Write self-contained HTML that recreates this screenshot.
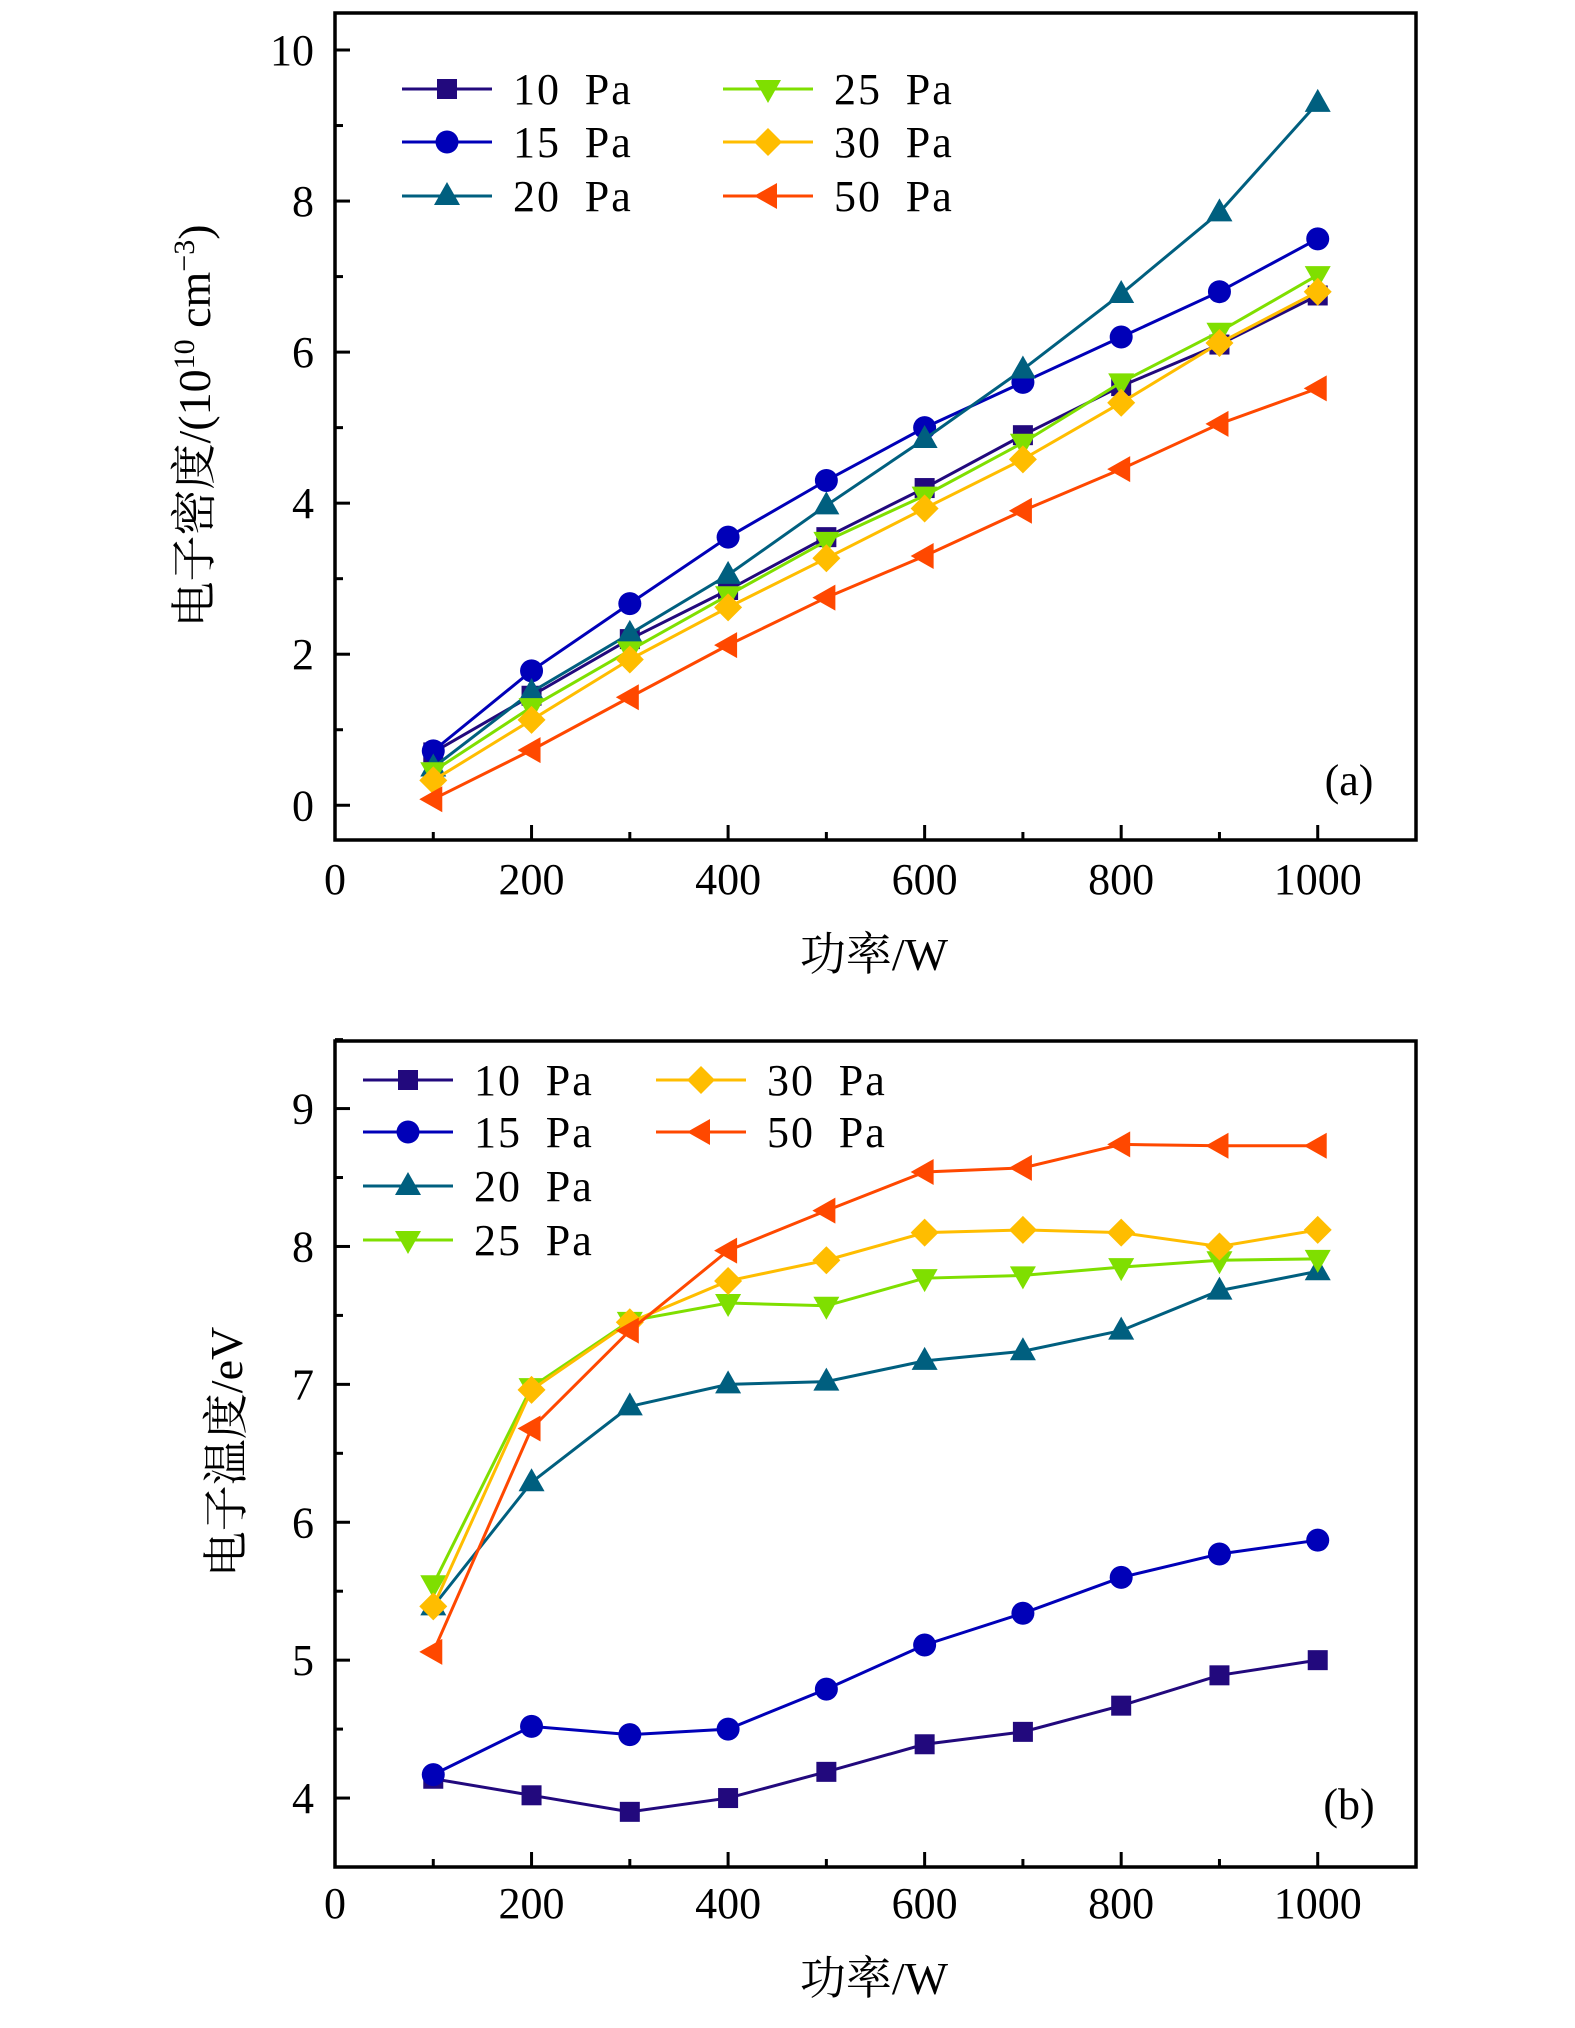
<!DOCTYPE html>
<html><head><meta charset="utf-8">
<style>
html,body{margin:0;padding:0;background:#fff;}
svg{display:block;font-family:"Liberation Serif","Noto Serif CJK SC",serif;}
</style></head>
<body>
<svg id="chart" width="1575" height="2028" viewBox="0 0 1575 2028" xmlns="http://www.w3.org/2000/svg"></svg>
<script>
const xValues = [100,200,300,400,500,600,700,800,900,1000];
const seriesNames = ["10 Pa","15 Pa","20 Pa","25 Pa","30 Pa","50 Pa"];
const densityP10 = [0.7,1.45,2.2,2.85,3.55,4.2,4.9,5.55,6.1,6.75];
const densityP15 = [0.72,1.78,2.67,3.55,4.3,5.0,5.6,6.2,6.8,7.5];
const densityP20 = [0.5,1.5,2.27,3.05,3.97,4.85,5.77,6.77,7.85,9.3];
const densityP25 = [0.45,1.3,2.05,2.78,3.5,4.1,4.8,5.6,6.27,7.02];
const densityP30 = [0.33,1.13,1.93,2.62,3.27,3.93,4.58,5.33,6.12,6.8];
const densityP50 = [0.08,0.73,1.43,2.12,2.75,3.3,3.9,4.45,5.05,5.52];
const tempP10 = [4.14,4.02,3.9,4.0,4.19,4.39,4.48,4.67,4.89,5.0];
const tempP15 = [4.17,4.52,4.46,4.5,4.79,5.11,5.34,5.6,5.77,5.87];
const tempP20 = [5.39,6.29,6.84,7.0,7.02,7.17,7.24,7.39,7.68,7.82];
const tempP25 = [5.55,6.98,7.46,7.59,7.57,7.77,7.79,7.85,7.9,7.91];
const tempP30 = [5.39,6.96,7.45,7.75,7.9,8.1,8.12,8.1,8.0,8.12];
const tempP50 = [5.06,6.68,7.39,7.97,8.26,8.54,8.57,8.74,8.73,8.73];
const xTicks = [0,200,400,600,800,1000];
const xMinorTicks = [100,300,500,700,900];
const densityTicks = [0,2,4,6,8,10];
const tempTicks = [4,5,6,7,8,9];

const colors = ["#22097d","#0000b8","#005f7f","#7fdf00","#ffbd00","#ff4800"];
const markers = ["square","circle","triangle","down","diamond","left"];
const NS = "http://www.w3.org/2000/svg";
const svg = document.getElementById("chart");
function mk(tag, attrs, parent){const e=document.createElementNS(NS,tag);for(const k in attrs)e.setAttribute(k,attrs[k]);(parent||svg).appendChild(e);return e;}

function marker(g,type,cx,cy,color){
  let e;
  if(type==="square") e=mk("rect",{x:cx-10,y:cy-10,width:20,height:20,fill:color},g);
  else if(type==="circle") e=mk("circle",{cx:cx,cy:cy,r:11.5,fill:color},g);
  else if(type==="triangle") e=mk("polygon",{points:`${cx},${cy-14} ${cx+13},${cy+9} ${cx-13},${cy+9}`,fill:color},g);
  else if(type==="down") e=mk("polygon",{points:`${cx},${cy+14} ${cx+13},${cy-9} ${cx-13},${cy-9}`,fill:color},g);
  else if(type==="diamond") e=mk("polygon",{points:`${cx},${cy-14} ${cx+14},${cy} ${cx},${cy+14} ${cx-14},${cy}`,fill:color},g);
  else e=mk("polygon",{points:`${cx-14},${cy} ${cx+9},${cy-13} ${cx+9},${cy+13}`,fill:color},g);
  
  
}

function panel(cfg){
  const g=mk("g",{});
  
  
  const L=335,R=1416,T=cfg.top,B=cfg.bottom;
  const sx=v=>L+(v-0)/1100*(R-L);
  const sy=v=>B-(v-cfg.ymin)/(cfg.ymax-cfg.ymin)*(B-T);
  cfg.series.forEach((arr,i)=>{
    const sg=mk("g",{},g);
    
    
    const pts=arr.map((v,j)=>sx(xValues[j])+","+sy(v)).join(" ");
    const pl=mk("polyline",{points:pts,fill:"none",stroke:colors[i],"stroke-width":3},sg);
    
    
    arr.forEach((v,j)=>marker(sg,markers[i],sx(xValues[j]),sy(v),colors[i]));
  });
  const fr=mk("rect",{x:L,y:T,width:R-L,height:B-T,fill:"none",stroke:"#000","stroke-width":3.5},g);
  
  
  xTicks.forEach(t=>{
    const x=sx(t);
    if(t>0) mk("line",{x1:x,y1:B,x2:x,y2:B-15,stroke:"#000","stroke-width":3},g);
    const tx=mk("text",{x:x,y:cfg.xLabelY,"font-size":44,"text-anchor":"middle"},g);
    tx.textContent=t;
    
    
  });
  xMinorTicks.forEach(t=>mk("line",{x1:sx(t),y1:B,x2:sx(t),y2:B-8,stroke:"#000","stroke-width":3},g));
  cfg.yticks.forEach(t=>{
    const y=sy(t);
    mk("line",{x1:L,y1:y,x2:L+15,y2:y,stroke:"#000","stroke-width":3},g);
    const ty=mk("text",{x:314,y:y+15,"font-size":44,"text-anchor":"end"},g);
    ty.textContent=t;
    
    
  });
  for(let k=0;k<cfg.yticks.length-1;k++){
    const y=sy((cfg.yticks[k]+cfg.yticks[k+1])/2);
    mk("line",{x1:L,y1:y,x2:L+8,y2:y,stroke:"#000","stroke-width":3},g);
  }
  if(cfg.extraMinor){ const y=sy(cfg.extraMinor); mk("line",{x1:L,y1:y,x2:L+8,y2:y,stroke:"#000","stroke-width":3},g);}
  const lg=mk("g",{},g);
  
  
  cfg.legend.forEach((p,i)=>{
    const eg=mk("g",{},lg);
    
    
    mk("line",{x1:p[0],y1:p[1],x2:p[0]+90,y2:p[1],stroke:colors[i],"stroke-width":3},eg);
    marker(eg,markers[i],p[0]+45,p[1],colors[i]);
    const t=mk("text",{x:p[0]+111,y:p[1]+15,"font-size":44,"letter-spacing":"2"},eg);
    t.textContent=seriesNames[i].replace(" ","\u2009 ");
  });
  const pl=mk("text",{x:1349,y:cfg.labelY,"font-size":44,"text-anchor":"middle"},g);
  pl.textContent=cfg.label;
  
  
  const xt=mk("text",{x:874,y:cfg.xTitleY,"font-size":46,"text-anchor":"middle"},g);
  xt.textContent="功率/W";
  
  
  const yt=mk("text",{x:0,y:0,"font-size":46,"text-anchor":"middle",transform:`translate(${cfg.yTitleX},${cfg.yTitleY}) rotate(-90)`},g);
  yt.innerHTML=cfg.yTitle;
  
  
}

panel({name:"panel-a-density",top:13,bottom:840,ymin:-0.46,ymax:10.49,
  series:[densityP10,densityP15,densityP20,densityP25,densityP30,densityP50],
  yticks:densityTicks,xLabelY:894,xTitleY:970,labelY:795,label:"(a)",
  yTitleX:210,yTitleY:426,
  yTitle:'电子密度/(10<tspan dy="-16" font-size="30">10</tspan><tspan dy="16"> cm</tspan><tspan dy="-16" font-size="30">−3</tspan><tspan dy="16">)</tspan>',
  legend:[[402,89],[402,142],[402,196],[723,89],[723,142],[723,196]]});

panel({name:"panel-b-temperature",top:1041,bottom:1867,ymin:3.5,ymax:9.49,
  series:[tempP10,tempP15,tempP20,tempP25,tempP30,tempP50],
  yticks:tempTicks,xLabelY:1918,xTitleY:1994,labelY:1819,label:"(b)",
  yTitleX:242,yTitleY:1452,yTitle:'电子温度/eV',extraMinor:9.5,
  legend:[[363,1080],[363,1132],[363,1186],[363,1240],[656,1080],[656,1132]]});
</script>
</body></html>
